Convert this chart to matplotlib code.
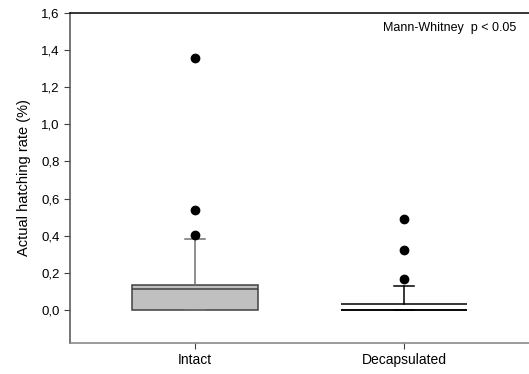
import matplotlib
matplotlib.use("Agg")
import matplotlib.pyplot as plt
from matplotlib.ticker import FuncFormatter

plt.rcParams['font.family'] = ['Liberation Sans', 'DejaVu Sans']

groups = ['Intact', 'Decapsulated']
q1 = [0.0, 0.0]
median = [0.115, 0.0]
q3 = [0.135, 0.03]
whisk_lo = [0.0, 0.0]
whisk_hi = [0.38, 0.13]
outliers = [[0.405, 0.54, 1.355], [0.165, 0.325, 0.49]]

fig = plt.figure(figsize=(5.29, 3.74), dpi=100)
ax = fig.add_axes([70 / 529, 1 - 343 / 374, 459 / 529, 330 / 374])

stats = []
for i, g in enumerate(groups):
    stats.append(dict(label=g, q1=q1[i], med=median[i], q3=q3[i],
                      whislo=whisk_lo[i], whishi=whisk_hi[i], fliers=outliers[i]))

flier = dict(marker='o', markerfacecolor='black', markeredgecolor='black', markersize=6)

# Intact: filled grey box
ax.bxp([stats[0]], positions=[1], widths=0.6, patch_artist=True,
       boxprops=dict(facecolor='#c0c0c0', edgecolor='#404040', linewidth=1.1),
       medianprops=dict(color='#404040', linewidth=1.1),
       whiskerprops=dict(color='#707070', linewidth=1.1),
       capprops=dict(color='#707070', linewidth=1.1),
       capwidths=0.1, flierprops=flier)

# Decapsulated: box drawn only as its quartile lines
ax.bxp([stats[1]], positions=[2], widths=0.6, showbox=False,
       medianprops=dict(color='black', linewidth=1.1),
       whiskerprops=dict(color='black', linewidth=1.1),
       capprops=dict(color='black', linewidth=1.1),
       capwidths=0.1, flierprops=flier)
ax.hlines([q1[1], q3[1]], 2 - 0.3, 2 + 0.3, color='black', linewidth=1.1)

ax.set_xlim(0.402, 2.598)
ax.set_ylim(-0.178, 1.6)
ax.set_xticks([1, 2])
ax.set_xticklabels(groups, fontsize=10)
ax.set_yticks([0.0, 0.2, 0.4, 0.6, 0.8, 1.0, 1.2, 1.4, 1.6])
ax.yaxis.set_major_formatter(FuncFormatter(lambda v, p: f'{v:.1f}'.replace('.', ',')))
ax.tick_params(axis='y', labelsize=9.5, length=4, color='#404040')
ax.tick_params(axis='x', length=4, color='#404040')
ax.set_ylabel('Actual hatching rate (%)', fontsize=10.5, labelpad=7)

ax.spines['right'].set_visible(False)
ax.spines['top'].set_color('black')
ax.spines['left'].set_color('#505050')
ax.spines['bottom'].set_color('#808080')
for sp in ax.spines.values():
    sp.set_linewidth(1.1)

ax.text(0.972, 0.955, 'Mann-Whitney  p < 0.05', transform=ax.transAxes,
        ha='right', va='center', fontsize=9)

fig.savefig('out.png', dpi=100)
